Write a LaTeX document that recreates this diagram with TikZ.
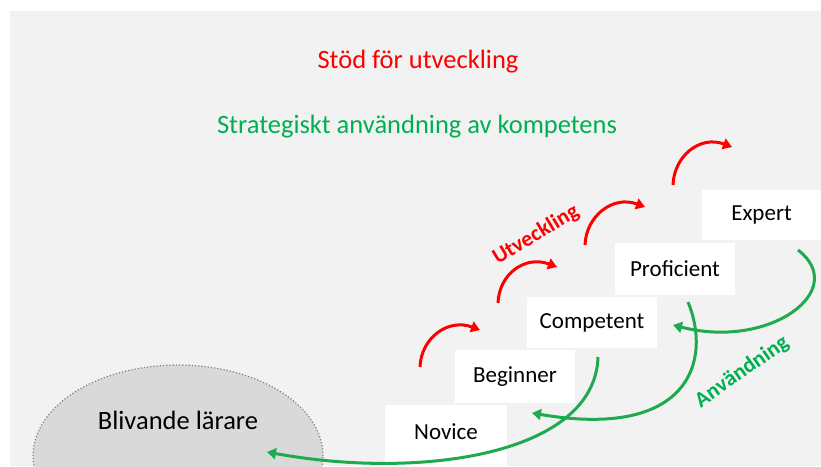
\documentclass[tikz,border=0pt]{standalone}
\usepackage{fontspec}
\setmainfont{Carlito}
\usetikzlibrary{arrows.meta,shapes.geometric}
\definecolor{bg}{HTML}{F2F2F2}
\definecolor{myred}{HTML}{FF0000}
\definecolor{mygreen}{HTML}{1FAA4F}
\definecolor{txtgreen}{HTML}{00B050}
\definecolor{ellfill}{HTML}{D9D9D9}
\tikzset{
  box/.style={fill=white, draw=none, inner sep=0pt},
  boxtext/.style={font=\fontsize{23}{26}\selectfont, text=black},
  redarrow/.style={draw=myred, line width=3pt, -{Triangle[length=9pt,width=11pt]}},
  greenarrow/.style={draw=mygreen, line width=3pt, -{Triangle[length=9pt,width=11pt]}},
}
\begin{document}
\begin{tikzpicture}[x=1pt,y=-1pt]
\useasboundingbox (0,0) rectangle (821,466);
\fill[white] (0,0) rectangle (821,466);
\fill[bg] (10,11) rectangle (821,466);
% titles
\node[text=myred, font=\fontsize{26.5}{30}\selectfont] (t1) at (418,62) {Stöd för utveckling};
\node[text=txtgreen, font=\fontsize{26.5}{30}\selectfont] (t2) at (417,127) {Strategiskt användning av kompetens};
% ellipse
\begin{scope}
\clip (0,0) rectangle (821,466);
\node[ellipse, fill=ellfill, draw=gray, dotted, line width=1.2pt, minimum width=290pt, minimum height=182pt] (ell) at (178,456) {};
\end{scope}
\node[font=\fontsize{26.5}{30}\selectfont] (bl) at (178,420) {Blivande lärare};
% boxes
\node[box, minimum width=119pt, minimum height=50pt] (expert) at (761.5,215) {};
\node[box, minimum width=120pt, minimum height=52pt] (prof) at (675,269) {};
\node[box, minimum width=130pt, minimum height=51pt] (comp) at (592,322.5) {};
\node[box, minimum width=120pt, minimum height=53pt] (beg) at (515,376.5) {};
\node[box, minimum width=122pt, minimum height=62pt] (nov) at (446,436) {};
\node[boxtext] (expertt) at (expert.center) {Expert};
\node[boxtext] (proft) at (prof.center) {Proficient};
\node[boxtext] (compt) at (comp.center) {Competent};
\node[boxtext] (begt) at (beg.center) {Beginner};
\node[boxtext] (novt) at (446,432) {Novice};
% red arrows
\coordinate (r1s) at (420,367); \coordinate (r1e) at (480,330);
\coordinate (r2s) at (498,303); \coordinate (r2e) at (557,267);
\coordinate (r3s) at (585,245); \coordinate (r3e) at (645,207);
\coordinate (r4s) at (673,185); \coordinate (r4e) at (732,147);
\foreach \i in {1,2,3,4}{
  \draw[redarrow] (r\i s) .. controls ([shift={(1,-29)}]r\i s) and ([shift={(-32,-12)}]r\i e) .. (r\i e);
}
% green arrows
\coordinate (gAs) at (798,250); \coordinate (gAe) at (673,325);
\coordinate (gBs) at (688,302); \coordinate (gBe) at (532,413);
\coordinate (gCs) at (598,357); \coordinate (gCe) at (267,452);
\draw[greenarrow] (gAs) .. controls (850,290) and (770,350) .. (gAe);
\draw[greenarrow] (gBs) .. controls (712,360) and (690,440) .. (gBe);
\draw[greenarrow] (gCs) .. controls (595,455) and (420,480) .. (gCe);
% labels
\node[text=myred, font=\bfseries\fontsize{22}{24}\selectfont, rotate=31] (utv) at (536,235) {Utveckling};
\node[text=txtgreen, font=\bfseries\fontsize{22}{24}\selectfont, rotate=35] (anv) at (742,372) {Användning};
\end{tikzpicture}
\end{document}
